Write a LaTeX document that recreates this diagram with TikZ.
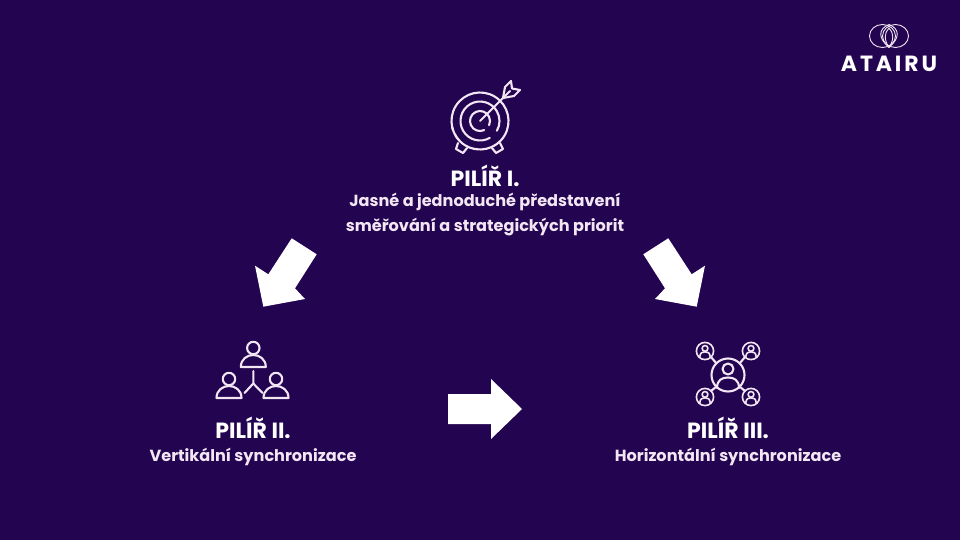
\documentclass[tikz,border=0pt]{standalone}
\usepackage{fontspec}
\setmainfont{Poppins}
\newfontfamily\logofont[LetterSpace=13]{Poppins}
\usepackage{tikz}
\usetikzlibrary{positioning}
\definecolor{bgpurple}{HTML}{220451}
\definecolor{iconpink}{HTML}{F3E6F3}

\begin{document}
\begin{tikzpicture}[
  x=1pt,y=-1pt,
  pillar/.style={text=white,align=center,inner sep=0pt,font=\fontsize{22}{24}\selectfont\bfseries},
  subtext/.style={text=iconpink,align=center,inner sep=0pt,font=\fontsize{16.1}{25}\selectfont\bfseries},
  icon/.style={draw=iconpink,line width=2.1pt,line cap=round,line join=round},
  thin icon/.style={draw=iconpink,line width=1.6pt,line cap=round,line join=round},
  logo line/.style={draw=iconpink,line width=0.9pt},
  blockarrow/.style={fill=white,draw=none},
  person/.pic={
    \draw[icon] (0,-14) circle[radius=6.2];
    \draw[icon] (-12.5,5) .. controls (-12.5,-3) and (-6,-7) .. (0,-7)
      .. controls (6,-7) and (12.5,-3) .. (12.5,5) -- cycle;
  },
  smallperson/.pic={
    \draw[thin icon] (0,0) circle[radius=8.6];
    \draw[thin icon] (0,-2.6) circle[radius=2.9];
    \draw[thin icon] (-5.2,6) .. controls (-5,1.5) and (-2.5,0.8) .. (0,0.8)
      .. controls (2.5,0.8) and (5,1.5) .. (5.2,6);
  }
]
  \fill[bgpurple] (0,0) rectangle (960,540);
  \useasboundingbox (0,0) rectangle (960,540);

  % logo
  \draw[logo line] (882.5,36) ellipse[x radius=13,y radius=11.5];
  \draw[logo line] (895.5,36) ellipse[x radius=13,y radius=11.5];
  \draw[logo line] (889,47.5) .. controls (878,38) and (878,29) .. (889,24.5)
    .. controls (900,29) and (900,38) .. (889,47.5);
  \draw[logo line] (889,47.5) .. controls (884,40) and (884,33) .. (889,28)
    .. controls (894,33) and (894,40) .. (889,47.5);
  \node[text=white,inner sep=0pt,font=\fontsize{22}{24}\selectfont\logofont\bfseries] (logo) at (889,63.5) {ATAIRU};

  % target
  \draw[icon] (480,121) ++(122:28.5) arc[start angle=122,end angle=-312,radius=28.5];
  \draw[icon] (480,121) ++(60:19.5) arc[start angle=60,end angle=390,radius=19.5];
  \draw[icon] (480,121) ++(65:10) arc[start angle=65,end angle=385,radius=10];
  \draw[icon] (480,121) ++(136:28.5) arc[start angle=136,end angle=150,radius=28.5];
  \draw[icon] (480,121) ++(162:28.5) arc[start angle=162,end angle=168,radius=28.5];
  \draw[icon] (480,121) -- (510,91);
  \draw[icon] (503,98) -- (505,87) -- (511,81) -- (512,88.5) -- (520,90) -- (514,96) -- cycle;
  \draw[icon] (458,143) -- (456,149) -- (463,153) -- (467,148);
  \draw[icon] (500,143) -- (503,149) -- (496,153) -- (492,148);

  % people tree
  \pic at (253.3,362) {person};
  \pic at (229,393) {person};
  \pic at (276,393) {person};
  \coordinate (fork) at (253.3,383.5);
  \draw[icon] (253.3,371) -- (fork) -- (244.5,393);
  \draw[icon] (fork) -- (262.5,393);

  % people network
  \draw[icon] (728,375) circle[radius=16.5];
  \draw[icon] (728,369) circle[radius=5.5];
  \draw[icon] (717,388) .. controls (717,380) and (722,377.5) .. (728,377.5)
    .. controls (734,377.5) and (739,380) .. (739,388);
  \foreach \px/\py in {705/351,751/351,705/397,751/397}
    \pic at (\px,\py) {smallperson};
  \draw[icon] (711,357) -- (716.5,363.5);
  \draw[icon] (745,357) -- (739.5,363.5);
  \draw[icon] (711,391) -- (716.5,386.5);
  \draw[icon] (745,391) -- (739.5,386.5);

  % block arrows
  \fill[blockarrow] (291.7,238.3) -- (316.7,254.3) -- (295,288.3) -- (305,299)
    -- (263.3,306.7) -- (255,265.7) -- (268.3,274.3) -- cycle;
  \fill[blockarrow] (668.3,238.3) -- (643.3,254.3) -- (665,288.3) -- (655,299)
    -- (696.7,306.7) -- (705,265.7) -- (691.7,274.3) -- cycle;
  \fill[blockarrow] (448,394) -- (491,394) -- (491,379) -- (522,409)
    -- (491,439) -- (491,424) -- (448,424) -- cycle;

  % labels
  \node[pillar] (pilirI) at (485,176) {PILÍŘ I.};
  \node[subtext,below=6pt of pilirI] (textI) {Jasné a jednoduché představení\\směřování a strategických priorit};
  \node[pillar] (pilirII) at (253,428) {PILÍŘ II.};
  \node[subtext,below=9pt of pilirII] (textII) {Vertikální synchronizace};
  \node[pillar] (pilirIII) at (728,428) {PILÍŘ III.};
  \node[subtext,below=9pt of pilirIII] (textIII) {Horizontální synchronizace};
\end{tikzpicture}
\end{document}
